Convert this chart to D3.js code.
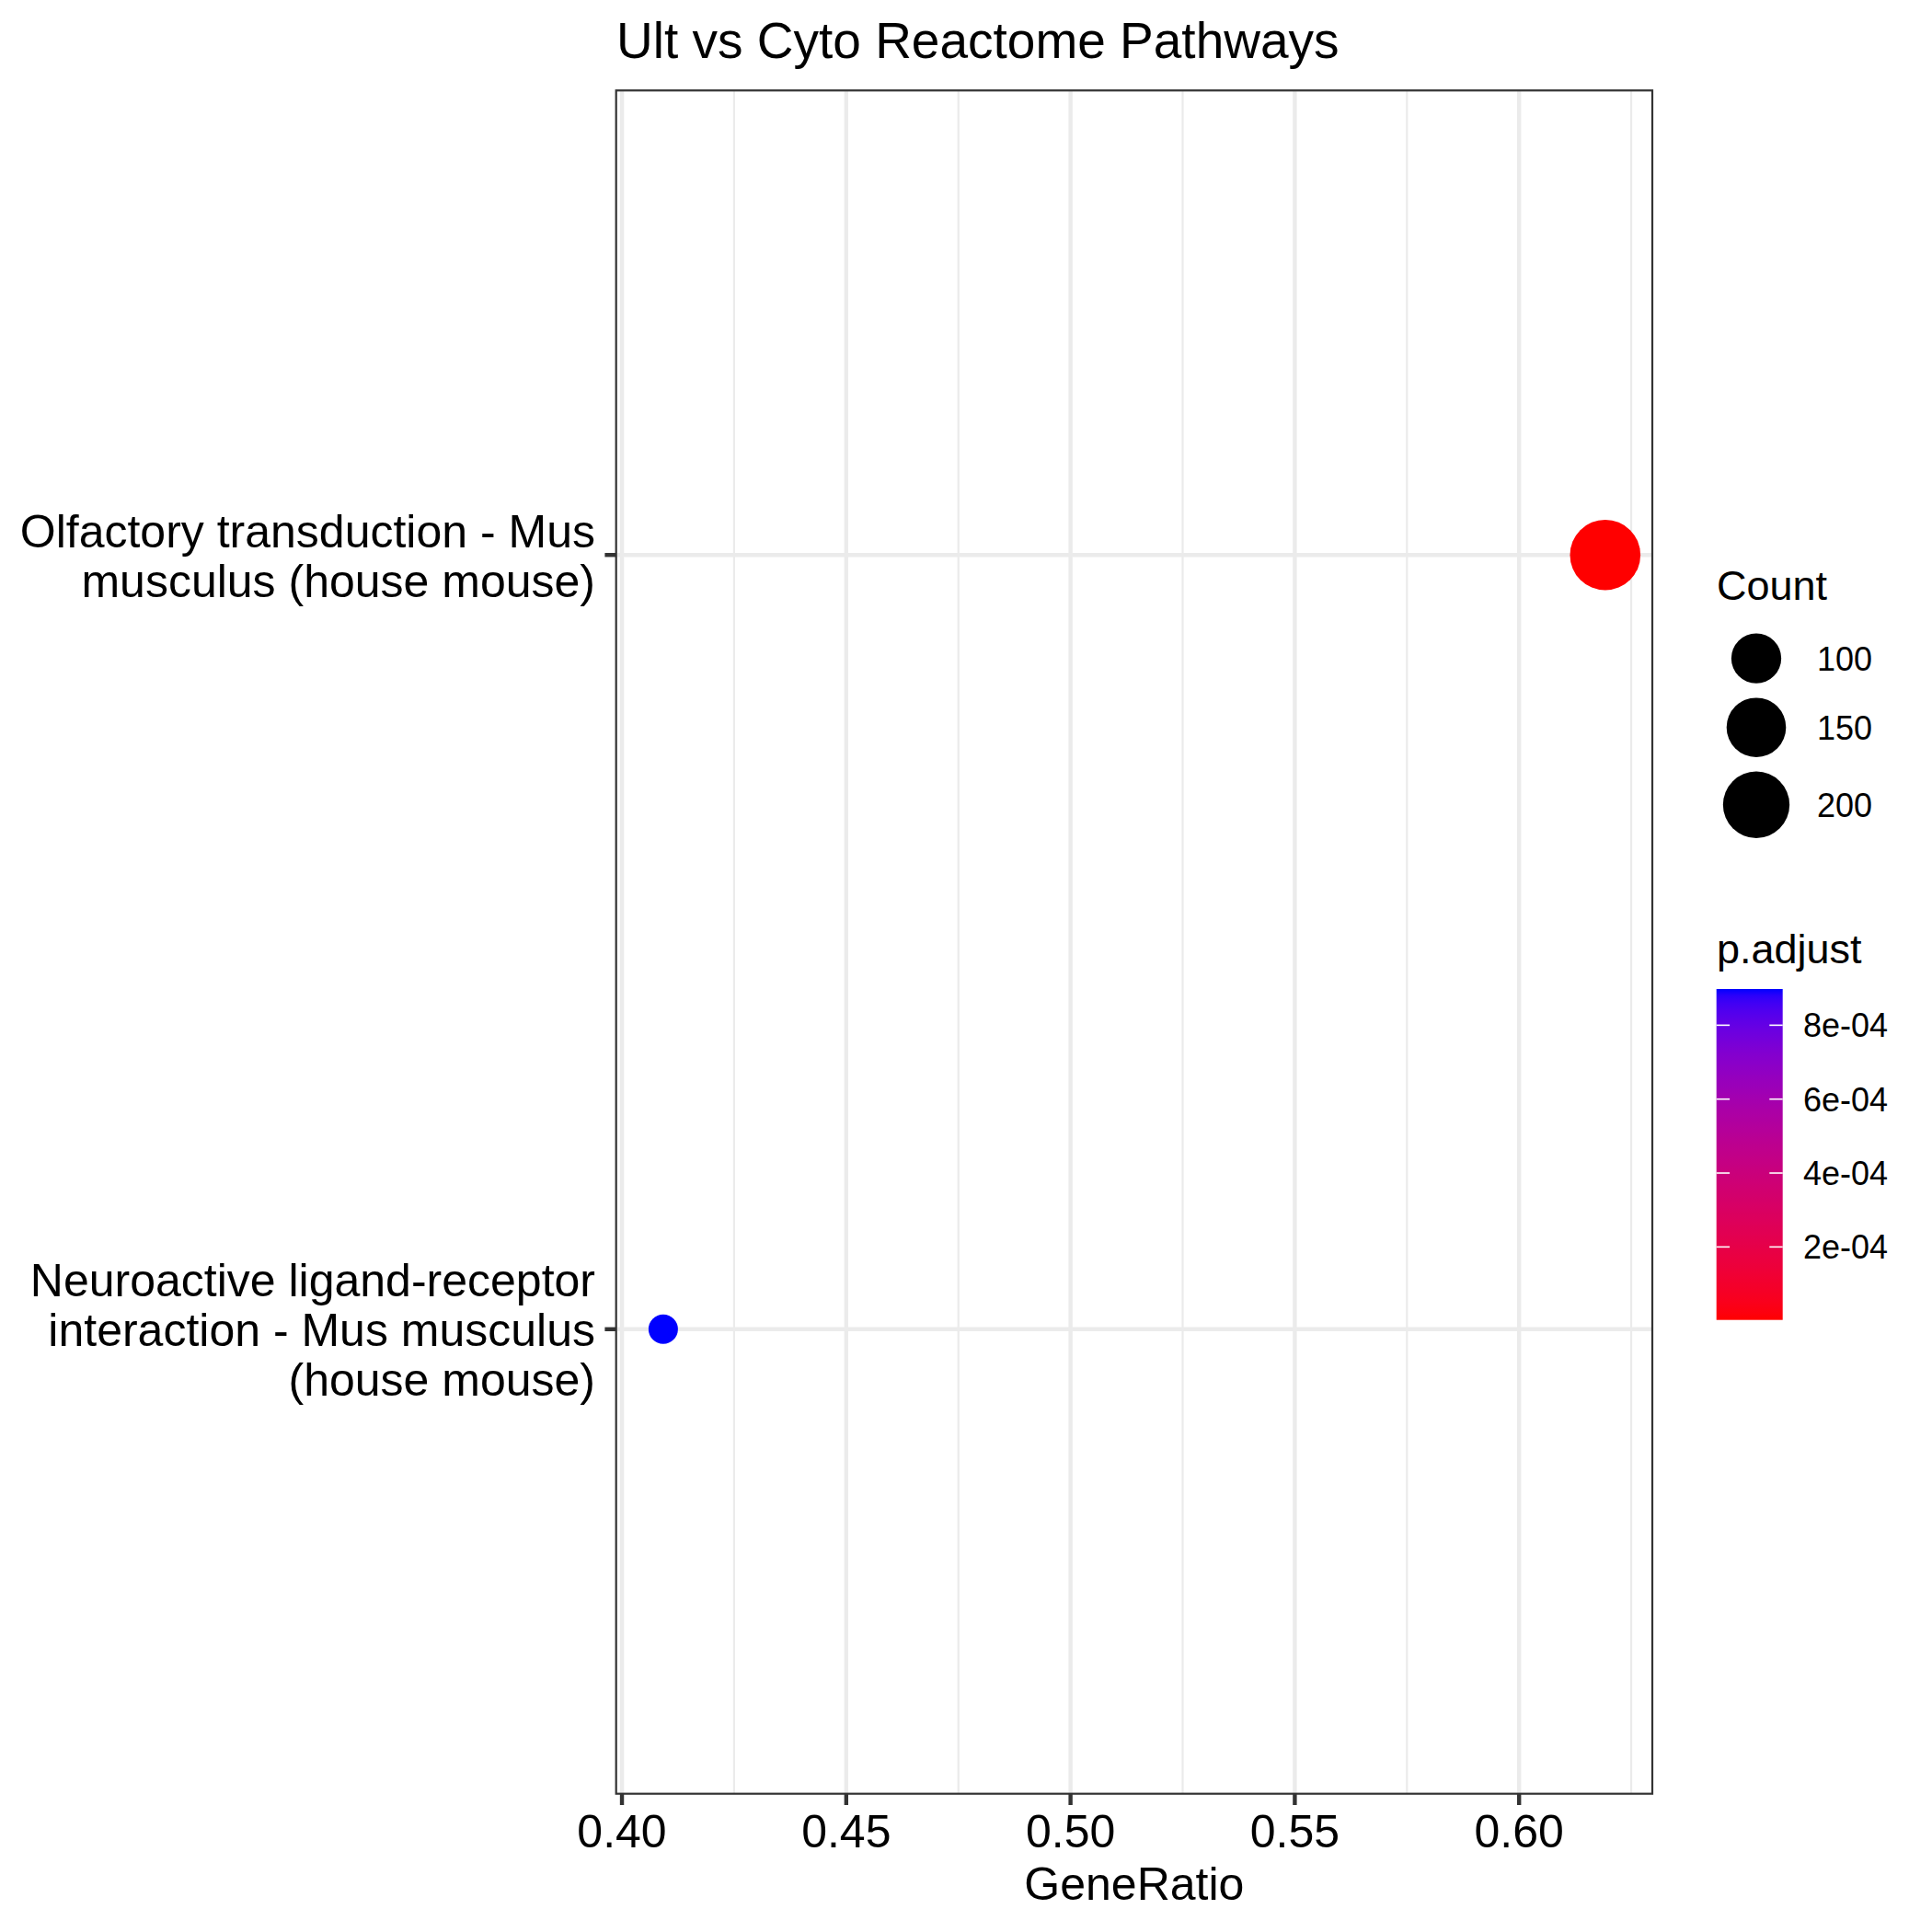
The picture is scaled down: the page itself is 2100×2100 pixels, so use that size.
<!DOCTYPE html>
<html>
<head>
<meta charset="utf-8">
<script src="https://cdn.jsdelivr.net/npm/d3@7"></script>
<style>
  html, body { margin: 0; padding: 0; background: #fff; }
  text { font-family: "Liberation Sans", Arial, Helvetica, sans-serif; }
</style>
</head>
<body>
<svg id="chart" width="2100" height="2100"></svg>
<script>
// ---------------- data ----------------
const pathways = [
  ["Neuroactive ligand-receptor", "interaction - Mus musculus", "(house mouse)"],
  ["Olfactory transduction - Mus", "musculus (house mouse)"]
];
const geneRatio = [0.4092, 0.6192];
const counts = [56, 232];
const pAdjust = [0.000898, 0.0000025];
const xTicks = [0.40, 0.45, 0.50, 0.55, 0.60];
const xMinor = [0.425, 0.475, 0.525, 0.575, 0.625];
const countBreaks = [100, 150, 200];
const pBreaks = [0.0002, 0.0004, 0.0006, 0.0008];
const pBreakLabels = ["2e-04", "4e-04", "6e-04", "8e-04"];
const titleText = "Ult vs Cyto Reactome Pathways";
const xTitle = "GeneRatio";

// ---------------- layout ----------------
const svg = d3.select("#chart");
const panel = { left: 669.7, right: 1796, top: 98.3, bottom: 1949.7 };
const keys = pathways.map(d => d.join(" "));

const [gmin, gmax] = d3.extent(geneRatio);
const ext = (gmax - gmin) * 0.05;
const x = d3.scaleLinear().domain([gmin - ext, gmax + ext]).range([panel.left, panel.right]);
const y = d3.scalePoint().domain(keys).range([panel.bottom, panel.top]).padding(0.6);

const [cmin, cmax] = d3.extent(counts);
const rNorm = d3.scalePow().exponent(0.5).domain([0, cmax - cmin]).range([16, 38.3]).clamp(false);
const r = c => rNorm(c - cmin);

const [pmin, pmax] = d3.extent(pAdjust);
const color = d3.scaleLinear().domain([pmin, pmax]).range(["#ff0000", "#0000ff"]).interpolate(d3.interpolateLab);

// ---------------- grid ----------------
const g = svg.append("g");
g.selectAll(".minor").data(xMinor).join("line")
  .attr("x1", d => x(d)).attr("x2", d => x(d))
  .attr("y1", panel.top).attr("y2", panel.bottom)
  .attr("stroke", "#EBEBEB").attr("stroke-width", 2.2);
g.selectAll(".major").data(xTicks).join("line")
  .attr("x1", d => x(d)).attr("x2", d => x(d))
  .attr("y1", panel.top).attr("y2", panel.bottom)
  .attr("stroke", "#EBEBEB").attr("stroke-width", 4.4);
g.selectAll(".hmajor").data(keys).join("line")
  .attr("x1", panel.left).attr("x2", panel.right)
  .attr("y1", d => y(d)).attr("y2", d => y(d))
  .attr("stroke", "#EBEBEB").attr("stroke-width", 4.4);

// ---------------- points ----------------
const pts = keys.map((k, i) => ({ k, gr: geneRatio[i], c: counts[i], p: pAdjust[i] }));
svg.append("g").selectAll("circle").data(pts).join("circle")
  .attr("cx", d => x(d.gr)).attr("cy", d => y(d.k))
  .attr("r", d => r(d.c)).attr("fill", d => color(d.p));

// ---------------- border ----------------
svg.append("rect")
  .attr("x", panel.left).attr("y", panel.top)
  .attr("width", panel.right - panel.left).attr("height", panel.bottom - panel.top)
  .attr("fill", "none").attr("stroke", "#333333").attr("stroke-width", 2.2);

// ---------------- x axis ----------------
const xa = svg.append("g");
xa.selectAll("line").data(xTicks).join("line")
  .attr("x1", d => x(d)).attr("x2", d => x(d))
  .attr("y1", panel.bottom).attr("y2", panel.bottom + 12.3)
  .attr("stroke", "#333333").attr("stroke-width", 4.4);
xa.selectAll("text").data(xTicks).join("text")
  .attr("x", d => x(d)).attr("y", panel.bottom + 58.5)
  .attr("text-anchor", "middle").attr("font-size", 50).attr("fill", "#000")
  .text(d => d3.format(".2f")(d));
svg.append("text")
  .attr("x", (panel.left + panel.right) / 2).attr("y", 2065)
  .attr("text-anchor", "middle").attr("font-size", 50).attr("fill", "#000")
  .text(xTitle);

// ---------------- y axis ----------------
const ya = svg.append("g");
ya.selectAll("line").data(keys).join("line")
  .attr("x1", panel.left - 12.3).attr("x2", panel.left)
  .attr("y1", d => y(d)).attr("y2", d => y(d))
  .attr("stroke", "#333333").attr("stroke-width", 4.4);
const lineH = 54;
pathways.forEach((lines, i) => {
  const cy = y(keys[i]);
  const n = lines.length;
  const t = ya.append("text")
    .attr("text-anchor", "end").attr("font-size", 50).attr("fill", "#000");
  lines.forEach((ln, j) => {
    t.append("tspan")
      .attr("x", 647)
      .attr("y", cy + (j - (n - 1) / 2) * lineH + 18.5)
      .text(ln);
  });
});

// ---------------- title ----------------
svg.append("text")
  .attr("x", 670).attr("y", 63)
  .attr("font-size", 55).attr("fill", "#000")
  .text(titleText);

// ---------------- size legend ----------------
const lg = svg.append("g");
lg.append("text").attr("x", 1866).attr("y", 652)
  .attr("font-size", 45).attr("fill", "#000").text("Count");
let yy = 680.7;
countBreaks.forEach(c => {
  const h = 2 * r(c) + 15.6;
  const cy = yy + h / 2;
  lg.append("circle").attr("cx", 1909).attr("cy", cy).attr("r", r(c)).attr("fill", "#000");
  lg.append("text").attr("x", 1975).attr("y", cy + 13)
    .attr("font-size", 36).attr("fill", "#000").text(c);
  yy += h;
});

// ---------------- colour bar ----------------
const bar = { x: 1865.7, y: 1075, w: 72, h: 359.7 };
lg.append("text").attr("x", 1866).attr("y", 1047)
  .attr("font-size", 45).attr("fill", "#000").text("p.adjust");
const barY = d3.scaleLinear().domain([pmin, pmax]).range([bar.y + bar.h, bar.y]);
const defs = svg.append("defs");
const grad = defs.append("linearGradient").attr("id", "pgrad")
  .attr("x1", 0).attr("y1", 1).attr("x2", 0).attr("y2", 0);
d3.range(0, 1.0001, 0.02).forEach(t => {
  grad.append("stop").attr("offset", t)
    .attr("stop-color", color(pmin + t * (pmax - pmin)));
});
lg.append("rect").attr("x", bar.x).attr("y", bar.y)
  .attr("width", bar.w).attr("height", bar.h).attr("fill", "url(#pgrad)");
pBreaks.forEach((p, i) => {
  const ty = barY(p);
  lg.append("line").attr("x1", bar.x).attr("x2", bar.x + bar.w / 5)
    .attr("y1", ty).attr("y2", ty).attr("stroke", "#fff").attr("stroke-width", 1.6);
  lg.append("line").attr("x1", bar.x + bar.w * 4 / 5).attr("x2", bar.x + bar.w)
    .attr("y1", ty).attr("y2", ty).attr("stroke", "#fff").attr("stroke-width", 1.6);
  lg.append("text").attr("x", 1960).attr("y", ty + 13)
    .attr("font-size", 36).attr("fill", "#000").text(pBreakLabels[i]);
});
</script>
</body>
</html>
